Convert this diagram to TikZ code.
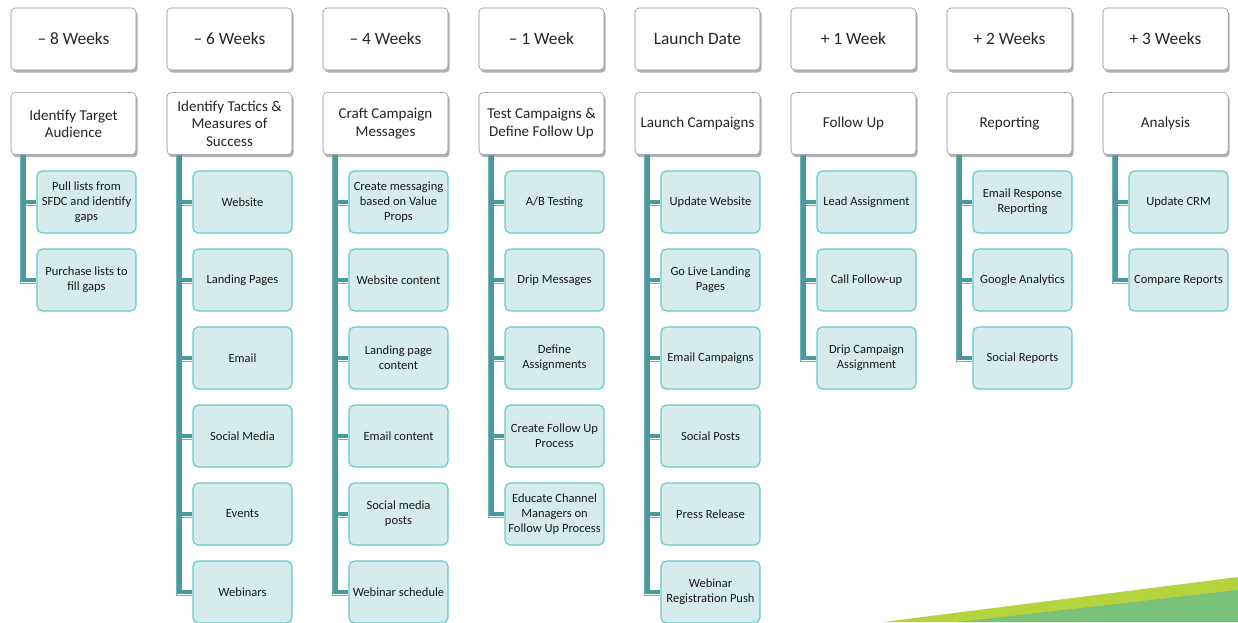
\documentclass[tikz,border=0pt]{standalone}
\usepackage{fontspec}
\setmainfont{Carlito}
\usetikzlibrary{positioning,shadows}
\definecolor{hdrline}{HTML}{8C8C8C}
\definecolor{kidfill}{HTML}{D6EBEB}
\definecolor{kidline}{HTML}{6CC8CB}
\definecolor{trunkcol}{HTML}{4A9A9D}
\definecolor{edgecol}{HTML}{6FB3B5}
\definecolor{limecol}{HTML}{B5D33D}
\definecolor{leafcol}{HTML}{7AC27A}

\begin{document}
\begin{tikzpicture}[x=0.75pt,y=-0.75pt]
    \tikzstyle{hdr}=[rectangle,draw=hdrline,fill=white,rounded corners=3pt,align=center,
      minimum width=93.75pt,minimum height=46.5pt,text=black!85,
      drop shadow={shadow xshift=1.2pt,shadow yshift=-2pt,fill=black,opacity=0.3}]
    \tikzstyle{kid}=[rectangle,draw=kidline,line width=0.9pt,fill=kidfill,rounded corners=4pt,align=center,
      minimum width=74.25pt,minimum height=46.5pt,inner sep=1pt,text=black!90,
      font=\fontsize{9.4}{11.25}\selectfont]
    \tikzstyle{trunk}=[draw=trunkcol,line width=3.6pt]
    \tikzstyle{trunkedge}=[draw=edgecol,line width=0.6pt]
    \useasboundingbox (0,0) rectangle (1238,622);
    % decoration bottom right
    \fill[limecol] (883,622) -- (1238,577) -- (1238,622) -- cycle;
    \fill[leafcol] (958,622) -- (1238,590) -- (1238,622) -- cycle;
    % timeline columns
    \foreach \i/\wk/\ph/\kids in {
      1/{– 8 Weeks}/{Identify Target\\Audience}/{{Pull lists from\\SFDC and identify\\gaps},{Purchase lists to\\fill gaps}},
      2/{– 6 Weeks}/{Identify Tactics \&\\Measures of\\Success}/{{Website},{Landing Pages},{Email},{Social Media},{Events},{Webinars}},
      3/{– 4 Weeks}/{Craft Campaign\\Messages}/{{Create messaging\\based on Value\\Props},{Website content},{Landing page\\content},{Email content},{Social media\\posts},{Webinar schedule}},
      4/{– 1 Week}/{Test Campaigns \&\\Define Follow Up}/{{A/B Testing},{Drip Messages},{Define\\Assignments},{Create Follow Up\\Process},{Educate Channel\\Managers on\\Follow Up Process}},
      5/{Launch Date}/{Launch Campaigns}/{{Update Website},{Go Live Landing\\Pages},{Email Campaigns},{Social Posts},{Press Release},{Webinar\\Registration Push}},
      6/{+ 1 Week}/{Follow Up}/{{Lead Assignment},{Call Follow-up},{Drip Campaign\\Assignment}},
      7/{+ 2 Weeks}/{Reporting}/{{Email Response\\Reporting},{Google Analytics},{Social Reports}},
      8/{+ 3 Weeks}/{Analysis}/{{Update CRM},{Compare Reports}}} {
      \node[hdr,font=\fontsize{13}{15}\selectfont] (h\i) at ({73.5+156*(\i-1)},39) {\wk};
      \node[hdr,font=\fontsize{11.3}{13}\selectfont,below=16.5pt of h\i] (p\i) {\ph};
      \foreach \t [count=\k] in \kids {
        \node[kid] (c\i-\k) at ({86.5+156*(\i-1)},{202+78*(\k-1)}) {\t};
        \draw[trunkedge] ([xshift=7pt]p\i.south west) |- ([yshift=-2.4pt]c\i-\k.west);
        \draw[trunk] ([xshift=9.6pt]p\i.south west) |- (c\i-\k.west);
      }
    }
  \end{tikzpicture}
\end{document}
